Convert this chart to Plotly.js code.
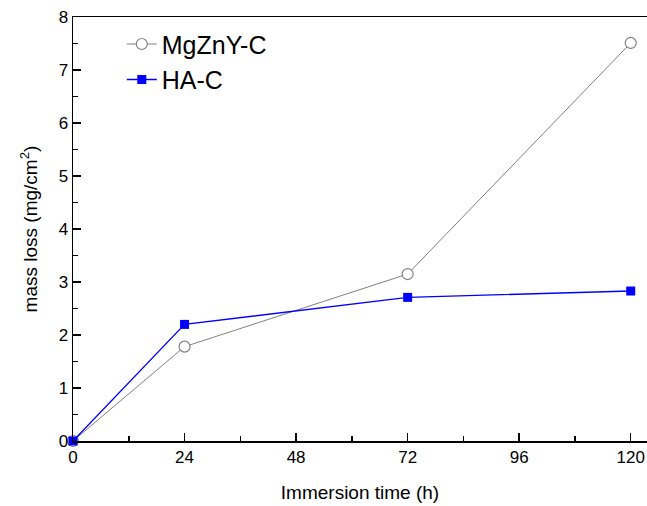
<!DOCTYPE html>
<html>
<head>
<meta charset="utf-8">
<script src="https://cdn.plot.ly/plotly-3.0.1.min.js"></script>
<style>html,body{margin:0;padding:0;background:#fff;}#chart{width:647px;height:506px;}</style>
</head>
<body>
<div id="chart"></div>
<script>
const timeHours = [0, 24, 72, 120];
const mgznyC = [0, 1.78, 3.15, 7.51];
const haC = [0, 2.2, 2.71, 2.83];
const xTicks = [0, 24, 48, 72, 96, 120];

const traces = [
  {
    x: timeHours, y: mgznyC, name: 'MgZnY-C', type: 'scatter', mode: 'lines+markers',
    line: {color: '#808080', width: 1},
    marker: {symbol: 'circle', size: 11, color: '#ffffff', line: {width: 1.2, color: '#808080'}},
    cliponaxis: false
  },
  {
    x: timeHours, y: haC, name: 'HA-C', type: 'scatter', mode: 'lines+markers',
    line: {color: '#0000ff', width: 1.3},
    marker: {symbol: 'square', size: 9, color: '#0000ff'},
    cliponaxis: false
  }
];

const font = 'Liberation Sans, Arial, sans-serif';
const layout = {
  width: 647, height: 506,
  margin: {l: 73, r: 0, t: 17, b: 65},
  paper_bgcolor: '#fff', plot_bgcolor: '#fff',
  showlegend: true,
  legend: {x: 0.085, y: 0.99, xanchor: 'left', yanchor: 'top', bgcolor: 'rgba(0,0,0,0)',
    font: {family: font, size: 25, color: '#000'}, tracegroupgap: 0},
  xaxis: {
    range: [0, 123.5], tickvals: xTicks, ticktext: xTicks.map(String),
    ticks: 'inside', ticklen: 8, tickwidth: 1.5, tickcolor: '#000',
    showline: true, linecolor: '#000', linewidth: 1.5, mirror: true,
    showgrid: false, zeroline: false,
    tickfont: {family: font, size: 17, color: '#000'},
    minor: {dtick: 12, tick0: 0, ticks: 'inside', ticklen: 5, tickwidth: 1.5, tickcolor: '#000', showgrid: false},
    title: {text: 'Immersion time (h)', font: {family: font, size: 19, color: '#000'}, standoff: 20}
  },
  yaxis: {
    range: [0, 8], dtick: 1, tick0: 0,
    ticks: 'inside', ticklen: 8, tickwidth: 1.5, tickcolor: '#000',
    showline: true, linecolor: '#000', linewidth: 1.5, mirror: true,
    showgrid: false, zeroline: false,
    tickfont: {family: font, size: 17, color: '#000'},
    minor: {dtick: 0.5, tick0: 0, ticks: 'inside', ticklen: 5, tickwidth: 1.5, tickcolor: '#000', showgrid: false},
    title: {text: 'mass loss (mg/cm<sup>2</sup>)', font: {family: font, size: 19, color: '#000'}, standoff: 16}
  }
};

Plotly.newPlot('chart', traces, layout, {displayModeBar: false, staticPlot: true});
</script>
</body>
</html>
